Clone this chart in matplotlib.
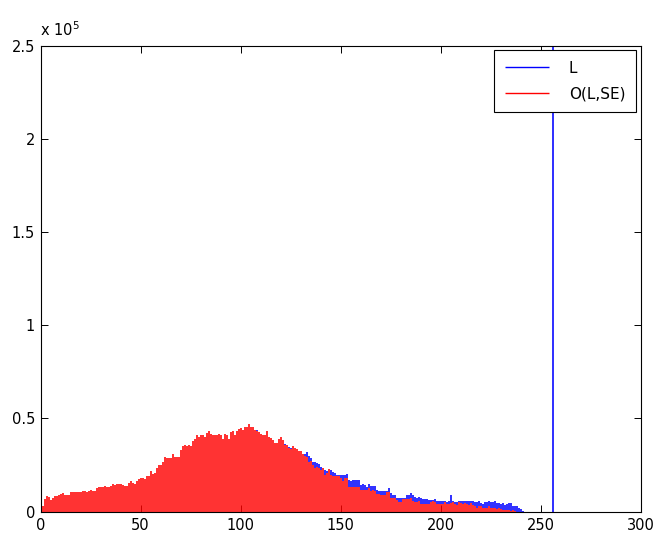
import numpy as np
import matplotlib
matplotlib.use("Agg")
import matplotlib.pyplot as plt
from matplotlib.ticker import FuncFormatter

plt.rcParams['font.family'] = ['DejaVu Sans']

# histogram counts (in thousands), bins 1..241
O_k = [2.7, 6.8, 8.4, 7.6, 6.3, 7.2, 8.4, 8.4, 8.9, 9.3, 9.7, 8.9, 8.9, 8.9, 10.4, 10.2, 10.4, 10.4, 10.6, 10.4,
       11.1, 11.1, 10.4, 11.1, 11.6, 11.1, 11.1, 12.5, 13.4, 12.9, 13.4, 13.9, 13.4, 13.4, 13.9, 14.7, 14.3, 14.8,
       14.8, 14.8, 14.3, 13.8, 13.8, 15.2, 16.4, 15.2, 14.8, 16.4, 17.3, 18.2, 17.9, 17.5, 18.8, 19.1, 21.5, 20.0,
       20.6, 23.6, 25.0, 25.0, 26.8, 29.0, 28.6, 28.6, 28.6, 30.8, 29.5, 29.5, 29.5, 33.1, 34.9, 35.8, 34.9, 35.8,
       34.9, 37.9, 39.0, 41.1, 40.2, 40.8, 41.1,
       39.9, 42.0, 43.3, 41.5, 40.8, 40.8, 40.8, 41.7, 41.1, 39.0, 41.7, 40.8, 39.0, 42.6, 43.3, 41.1, 43.3, 44.3,
       44.7, 43.8, 45.2, 45.2, 46.8, 45.1, 45.6, 43.8, 43.3, 42.6, 41.5, 40.8, 40.8, 43.3, 40.2, 39.3, 38.4, 36.7,
       36.7, 39.0, 39.7, 38.4, 35.8, 35.8,
       34.3, 33.6, 35.4, 34.0, 33.6, 32.5, 32.5, 30.8, 30.0, 29.0, 26.8, 27.2, 25.0, 23.6, 24.1, 23.2, 22.4, 23.2,
       19.7, 20.6, 22.9, 19.7, 18.8, 18.8, 18.8, 18.8, 17.9, 16.1, 18.2, 17.9, 13.4, 13.4, 13.4, 13.4, 12.9, 13.4,
       11.6, 11.6, 11.6, 11.6, 12.5,
       11.1, 11.6, 11.1, 9.3, 9.3, 8.9, 8.9, 8.9, 10.4, 10.4, 7.2, 7.2, 7.2, 6.3, 5.0, 5.0, 6.8, 6.8, 6.8, 6.8,
       7.2, 5.7, 5.0, 5.0, 5.7, 3.9, 3.9, 3.9, 3.9, 3.9, 5.0, 5.7, 5.0, 3.9, 3.9, 3.9, 3.9, 5.0, 3.9, 3.9,
       4.5, 5.0, 3.9, 3.6, 5.0, 4.5, 3.9, 4.5, 3.9, 3.6, 4.5, 3.6, 2.7, 2.1, 3.2, 3.2, 2.1, 2.1, 1.8, 2.7,
       1.8, 1.8, 2.1, 1.4, 1.8, 1.4, 0.9, 0.9, 0.9, 0.9, 0.4, 0.9, 0.4, 0, 0, 0, 0]

# L equals O on the low bins, then sits above it
L_k = O_k[:107] + [
       43.8, 42.9, 41.5, 40.8, 40.8, 43.3, 40.2, 39.3, 38.4, 36.7, 36.7, 39.0, 39.7, 38.4, 36.1, 35.8,
       34.7, 34.0, 35.4, 34.0, 33.6, 32.5, 32.5, 31.1, 30.8, 31.8, 30.0, 28.6, 26.8, 26.5, 25.9, 25.4, 24.1, 23.6,
       22.2, 21.5, 22.9, 22.2, 21.1, 20.4, 19.7, 19.7, 19.7, 19.7, 19.7, 20.0, 17.0, 16.4, 17.0, 17.0, 17.0, 17.0,
       14.3, 14.7, 14.3, 13.4, 14.7,
       13.9, 13.9, 13.9, 11.6, 11.1, 11.1, 11.1, 11.1, 11.1, 12.5, 9.8, 8.9, 8.6, 7.5, 7.5, 7.5, 7.5, 7.2, 8.6, 8.9,
       9.7, 8.9, 8.0, 7.2, 8.0, 7.5, 6.8, 6.8, 6.8, 6.3, 6.3, 6.3, 6.8, 5.7, 5.7, 5.7, 5.7, 5.4, 5.0, 5.7,
       8.6, 5.7, 5.0, 5.0, 5.4, 5.7, 5.7, 5.4, 5.4, 5.4, 5.7, 5.4, 5.0, 5.0, 5.4, 4.5, 3.9, 5.0, 5.0, 5.4,
       5.0, 5.0, 5.4, 4.5, 4.5, 3.9, 4.5, 3.6, 3.9, 4.5, 4.5, 3.2, 3.2, 2.7, 2.1, 1.4, 0.4]

# the white pixels pile up in the last bin (goes off the top)
L_peak_bin = 256
L_peak_k = 290.0

O = np.array(O_k) * 1000
L = np.array(L_k) * 1000
bins = np.arange(1, len(O) + 1)

L_x = np.append(bins, L_peak_bin)
L_y = np.append(L, L_peak_k * 1000)
# red is drawn over blue, so only the part of L above O shows
L_from = np.append(O, 0)

W, H = 656, 536
fig = plt.figure(figsize=(W / 100, H / 100), dpi=100)
# 600 px for 300 units -> every bin lands on a pixel centre
ax = fig.add_axes([40.5 / W, 24.5 / H, 600 / W, 466 / H])

# slightly wider than 1px so the antialiased edges fill the gaps with a pale tint
ho = ax.vlines(bins, 0, O, colors='red', linewidth=1.15, label='O(L,SE)')
hl = ax.vlines(L_x, L_from, L_y, colors='blue', linewidth=1.15, label='L')

ax.set_xlim(0, 300)
ax.set_ylim(0, 2.5e5)
ax.set_xticks(np.arange(0, 301, 50))
ax.set_yticks(np.arange(0, 2.5e5 + 1, 0.5e5))
ax.yaxis.set_major_formatter(FuncFormatter(lambda v, p: f'{v / 1e5:g}'))
ax.tick_params(direction='in', length=5, width=0.7, labelsize=10.5, top=True, right=True,
               colors='black', pad=5)
ax.tick_params(axis='y', pad=4)
for s in ax.spines.values():
    s.set_linewidth(0.8)

ax.text(0.0, 1.02, r'x 10$^{5}$', transform=ax.transAxes, fontsize=10.5, ha='left', va='baseline')

leg = ax.legend(handles=[hl, ho], loc='upper right', fontsize=11, fancybox=False, framealpha=1,
                edgecolor='black', borderaxespad=0.3, borderpad=0.7, handlelength=2.9,
                handletextpad=1.3, labelspacing=0.7)
leg.get_frame().set_linewidth(0.8)
for h in leg.legend_handles:
    h.set_linewidth(1.0)

fig.savefig('out.png', dpi=100, facecolor='white')
